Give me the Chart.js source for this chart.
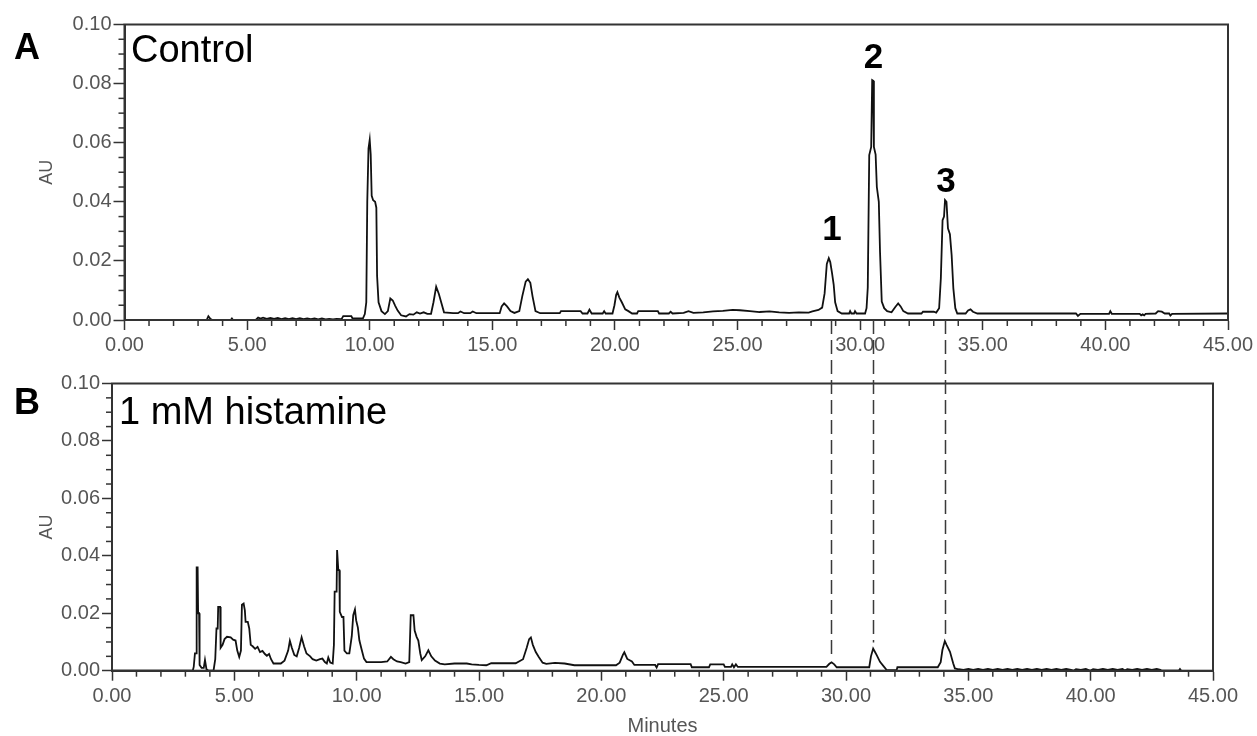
<!DOCTYPE html>
<html>
<head>
<meta charset="utf-8">
<script src="https://cdn.jsdelivr.net/npm/chart.js@4.4.1/dist/chart.umd.min.js"></script>
<style>
html,body{margin:0;padding:0;background:#fff;overflow:hidden;}
#wrap{position:relative;width:1257px;height:736px;overflow:hidden;background:#fff;}
#cA{position:absolute;left:0;top:0;}
#cB{position:absolute;left:0;top:300px;}
</style>
</head>
<body>
<div id="wrap">
<canvas id="cA" width="1257" height="368"></canvas>
<canvas id="cB" width="1257" height="438"></canvas>
</div>
<script>
// ---------- data ----------
const xTickValues = [0, 5, 10, 15, 20, 25, 30, 35, 40, 45];
const xTickLabels = ['0.00','5.00','10.00','15.00','20.00','25.00','30.00','35.00','40.00','45.00'];
const yTickValues = [0, 0.02, 0.04, 0.06, 0.08, 0.10];
const yTickLabels = ['0.00','0.02','0.04','0.06','0.08','0.10'];

const panelLetters = ['A', 'B'];
const panelTitles = ['Control', '1 mM histamine'];
const peakNames = ['1', '2', '3'];
const peakTimesA = [28.85, 30.54, 33.5];      // retention times (min) in Control
const peakTimesB = [29.37, 31.11, 34.06];     // retention times (min) in histamine run
const axisTitleY = 'AU';
const axisTitleX = 'Minutes';

// Panel A (Control) chromatogram: time (min), absorbance (AU)
const timeA = [0,3.35,3.42,3.5,3.58,4.33,4.38,4.43,5.35,5.45,5.55,5.65,5.8,5.95,6.1,6.25,6.4,6.55,6.7,6.85,7.0,7.15,7.3,7.45,7.6,7.75,7.9,8.05,8.2,8.35,8.5,8.65,8.85,8.92,9.25,9.3,9.72,9.8,9.86,9.9,9.95,10.0,10.04,10.08,10.14,10.22,10.27,10.3,10.36,10.48,10.62,10.74,10.84,10.94,11.04,11.14,11.28,11.48,11.62,11.78,11.92,12.05,12.2,12.35,12.5,12.6,12.71,12.82,12.92,13.03,13.4,13.6,13.7,13.85,14.1,14.2,14.35,15.3,15.38,15.48,15.6,15.74,15.9,16.1,16.22,16.36,16.45,16.55,16.64,16.76,16.95,17.75,17.8,18.6,18.68,18.88,18.96,19.05,19.5,19.56,19.62,19.9,19.98,20.05,20.1,20.18,20.28,20.42,20.55,20.7,20.9,20.95,21.75,21.8,22.2,22.27,22.35,22.8,23.0,23.2,23.6,24.0,24.4,24.8,25.1,25.5,25.9,26.3,26.7,27.1,27.5,27.9,28.05,28.3,28.45,28.55,28.64,28.72,28.78,28.85,28.92,28.98,29.08,29.25,29.55,29.59,29.64,29.75,29.79,29.85,30.2,30.26,30.31,30.37,30.45,30.49,30.53,30.56,30.63,30.68,30.76,30.81,30.88,30.98,31.1,31.28,31.44,31.55,31.65,31.76,31.95,32.5,32.56,33.0,33.1,33.22,33.29,33.36,33.42,33.46,33.52,33.58,33.66,33.73,33.8,33.88,33.96,34.3,34.4,34.5,34.6,34.78,38.8,38.88,38.98,40.15,40.2,40.26,41.4,41.46,41.52,41.58,41.64,42.05,42.15,42.3,42.42,42.6,42.65,42.72,45];
const auA = [0,0,0.0013,0.0004,0,0,0.0005,0,0,0.0008,0.0005,0.0008,0.0004,0.0007,0.0004,0.0007,0.0003,0.0006,0.0003,0.0006,0.0003,0.0006,0.0003,0.0005,0.0003,0.0005,0.0002,0.0005,0.0002,0.0004,0.0002,0.0004,0.0003,0.0013,0.0013,0.0005,0.0005,0.002,0.006,0.04,0.058,0.061,0.056,0.042,0.0405,0.04,0.038,0.015,0.006,0.003,0.002,0.003,0.0073,0.0066,0.0048,0.0032,0.0016,0.0012,0.002,0.0018,0.0026,0.0022,0.0026,0.0021,0.0021,0.006,0.0113,0.0088,0.0058,0.0026,0.0023,0.0023,0.0029,0.0023,0.0023,0.0029,0.0023,0.0023,0.0046,0.0056,0.0046,0.003,0.0024,0.003,0.008,0.013,0.0138,0.0126,0.008,0.003,0.0023,0.0023,0.003,0.003,0.0022,0.0022,0.0035,0.0022,0.0022,0.003,0.0022,0.0022,0.005,0.0085,0.0094,0.0076,0.006,0.0036,0.003,0.0022,0.0022,0.003,0.003,0.0022,0.0022,0.0028,0.0022,0.0024,0.003,0.0024,0.0026,0.0029,0.0031,0.0034,0.0033,0.003,0.0027,0.0029,0.0026,0.0024,0.0026,0.0025,0.0029,0.0034,0.0042,0.009,0.019,0.0209,0.0196,0.016,0.012,0.006,0.003,0.0022,0.0022,0.003,0.0022,0.0022,0.003,0.0022,0.0022,0.004,0.011,0.0558,0.0586,0.0812,0.081,0.0586,0.056,0.045,0.04,0.023,0.0062,0.004,0.003,0.0026,0.0045,0.0056,0.0046,0.003,0.0022,0.0022,0.0028,0.0028,0.0025,0.004,0.0141,0.0338,0.035,0.0406,0.04,0.031,0.029,0.022,0.0107,0.004,0.0022,0.0022,0.0032,0.0036,0.0028,0.0022,0.0022,0.0014,0.0021,0.0021,0.003,0.0021,0.0021,0.0016,0.0019,0.0016,0.0021,0.0022,0.003,0.0028,0.0022,0.0022,0.0015,0.0021,0.0022];

// Panel B (1 mM histamine) chromatogram: time (min), absorbance (AU)
const timeB = [0,3.3,3.34,3.39,3.44,3.46,3.5,3.52,3.56,3.58,3.66,3.75,3.8,3.86,3.95,4.15,4.22,4.27,4.32,4.34,4.42,4.44,4.52,4.6,4.7,4.85,4.95,5.05,5.12,5.2,5.27,5.31,5.38,5.43,5.46,5.55,5.61,5.67,5.75,5.85,5.95,6.05,6.15,6.25,6.33,6.42,6.5,6.6,6.9,7.05,7.2,7.27,7.35,7.45,7.55,7.65,7.75,7.85,7.95,8.1,8.2,8.35,8.5,8.6,8.7,8.78,8.84,8.92,9.02,9.07,9.1,9.18,9.2,9.25,9.29,9.31,9.4,9.46,9.5,9.6,9.7,9.8,9.86,9.93,9.98,10.05,10.11,10.2,10.3,10.4,10.7,11.0,11.25,11.4,11.5,11.65,11.8,12.0,12.15,12.21,12.32,12.37,12.45,12.52,12.6,12.66,12.8,12.93,13.05,13.2,13.4,13.6,14.0,14.5,14.7,15.0,15.3,15.5,16.0,16.5,16.8,16.95,17.05,17.12,17.2,17.32,17.45,17.6,17.75,18.1,18.5,18.9,20.6,20.75,20.88,20.94,21.06,21.25,21.35,22.2,22.26,22.32,23.65,23.7,24.4,24.45,25.0,25.05,25.3,25.35,25.42,25.5,25.58,29.2,29.32,29.41,29.52,29.62,30.95,31.02,31.11,31.18,31.25,31.39,31.59,31.66,32.07,32.1,33.75,33.87,33.94,34.04,34.11,34.25,34.38,34.45,34.6,34.8,35.0,35.2,35.4,35.6,35.8,36.0,36.2,36.4,36.6,36.8,37.0,37.2,37.4,37.6,37.8,38.0,38.2,38.4,38.6,38.8,39.0,39.2,39.3,39.4,39.6,39.8,39.97,40.1,40.3,40.5,40.7,40.9,41.1,41.3,41.4,41.5,41.7,41.9,42.1,42.3,42.5,42.7,42.85,42.9,43.6,43.65,43.7];
const auB = [0,0,0.0013,0.006,0.006,0.036,0.036,0.02,0.02,0.002,0.001,0.001,0.0037,0.0005,0,0,0.004,0.0147,0.0147,0.0222,0.0222,0.008,0.009,0.011,0.0118,0.0116,0.0108,0.0105,0.007,0.0048,0.007,0.023,0.0234,0.021,0.017,0.017,0.0147,0.009,0.0085,0.0076,0.0083,0.0065,0.0069,0.0058,0.0052,0.0058,0.004,0.0025,0.0025,0.0035,0.007,0.0104,0.008,0.0055,0.005,0.008,0.0116,0.0085,0.006,0.005,0.004,0.0035,0.004,0.0042,0.003,0.0025,0.0046,0.0028,0.0025,0.009,0.0275,0.0275,0.042,0.035,0.035,0.0205,0.0187,0.0187,0.007,0.006,0.006,0.012,0.0193,0.0213,0.0175,0.015,0.0106,0.0075,0.0042,0.003,0.003,0.003,0.0032,0.0048,0.004,0.0032,0.003,0.0025,0.003,0.0193,0.0193,0.014,0.0118,0.0105,0.006,0.0037,0.005,0.0071,0.005,0.0035,0.0025,0.0022,0.0025,0.0025,0.0022,0.002,0.0019,0.0026,0.0026,0.0026,0.004,0.008,0.011,0.0116,0.009,0.0065,0.0047,0.0028,0.0024,0.0027,0.0025,0.0019,0.0019,0.0028,0.0055,0.0064,0.0041,0.0032,0.002,0.002,0.0011,0.0023,0.0023,0.0012,0.0012,0.0022,0.0022,0.0013,0.0013,0.0022,0.0012,0.0022,0.0013,0.0013,0.0024,0.0029,0.0022,0.0012,0.0012,0.005,0.0077,0.0066,0.0055,0.0031,0.001,0.0002,0.0002,0.0012,0.0012,0.003,0.0072,0.0103,0.009,0.0066,0.0026,0.0008,0.0005,0.0003,0.0006,0.0003,0.0006,0.0003,0.0006,0.0003,0.0006,0.0003,0.0006,0.0003,0.0006,0.0003,0.0006,0.0003,0.0006,0.0003,0.0006,0.0003,0.0006,0.0003,0.0006,0.0003,0,0.0005,0.0003,0.0006,0,0.0005,0.0003,0.0006,0.0003,0.0006,0.0003,0.0006,0.0001,0.0005,0.0003,0.0006,0.0003,0.0006,0.0003,0.0006,0.0003,0,0,0.0006,0];

// ---------- drawing ----------
Chart.defaults.font.family = "'Liberation Sans', Arial, Helvetica, sans-serif";
const TOP_A = 0, TOP_B = 300;
const AXIS = '#333', LABEL = '#555';

function toPoints(t, a) { return t.map((v, i) => ({ x: v, y: a[i] })); }

function line(ctx, x1, y1, x2, y2) { ctx.beginPath(); ctx.moveTo(x1, y1); ctx.lineTo(x2, y2); ctx.stroke(); }

const frameTicks = {
  id: 'frameTicks',
  afterDraw(chart) {
    const { ctx, chartArea: a, scales: { x, y } } = chart;
    ctx.save();
    ctx.strokeStyle = AXIS;
    ctx.lineWidth = 2;
    ctx.strokeRect(a.left, a.top, a.right - a.left, a.bottom - a.top);
    ctx.lineWidth = 1.5;
    for (let m = 1; m < 45; m++) {
      if (m % 5 === 0) continue;
      const px = x.getPixelForValue(m);
      line(ctx, px, a.bottom, px, a.bottom + 6);
    }
    for (let k = 1; k < 20; k++) {
      if (k % 4 === 0) continue;
      const py = y.getPixelForValue(k * 0.005);
      line(ctx, a.left - 6, py, a.left, py);
    }
    ctx.restore();
  }
};

function makeOptions(p) {
  return {
    responsive: false,
    animation: false,
    devicePixelRatio: 1,
    layout: { padding: { left: 0, right: p.right, top: p.top, bottom: 0 } },
    plugins: { legend: { display: false }, tooltip: { enabled: false } },
    elements: { point: { radius: 0 }, line: { tension: 0 } },
    scales: {
      x: {
        type: 'linear', min: 0, max: 45,
        afterBuildTicks: s => { s.ticks = xTickValues.map(v => ({ value: v })); },
        afterFit: s => { s.height = p.xh; },
        grid: { drawOnChartArea: false, drawTicks: true, tickLength: 10, tickWidth: 1.5, tickColor: AXIS },
        border: { display: true, color: AXIS, width: 2 },
        ticks: { autoSkip: false, maxRotation: 0, minRotation: 0, padding: p.xpad, color: LABEL,
                 font: { size: 20 }, callback: (v, i) => xTickLabels[i] },
        title: p.xtitle ? { display: true, text: p.xtitle, color: LABEL, font: { size: 20 }, padding: 0 }
                        : { display: false }
      },
      y: {
        type: 'linear', min: 0, max: 0.1,
        afterBuildTicks: s => { s.ticks = yTickValues.map(v => ({ value: v })); },
        afterFit: s => { s.width = p.yw; },
        grid: { drawOnChartArea: false, drawTicks: true, tickLength: p.ytl, tickWidth: 1.5, tickColor: AXIS },
        border: { display: true, color: AXIS, width: 2 },
        ticks: { padding: 2, color: LABEL, font: { size: 20 }, callback: (v, i) => yTickLabels[i] },
        title: { display: true, text: axisTitleY, color: LABEL, font: { size: 18 }, padding: { top: 36.5, bottom: 0 } }
      }
    }
  };
}

function dataset(t, a) {
  return { data: toPoints(t, a), borderColor: '#111', borderWidth: 1.8, fill: false, pointRadius: 0 };
}

// Panel A
const textA = {
  id: 'textA',
  afterDraw(chart) {
    const { ctx, scales: { x, y } } = chart;
    ctx.save();
    ctx.fillStyle = '#000';
    ctx.textAlign = 'left';
    ctx.textBaseline = 'alphabetic';
    ctx.font = "bold 36px 'Liberation Sans', Arial, sans-serif";
    ctx.fillText(panelLetters[0], 14, 58.5);
    ctx.font = "38px 'Liberation Sans', Arial, sans-serif";
    ctx.fillText(panelTitles[0], 131, 61.5);
    ctx.font = "bold 35px 'Liberation Sans', Arial, sans-serif";
    ctx.textAlign = 'center';
    const labelAU = [0.0272, 0.0854, 0.0432];
    peakNames.forEach((n, i) => {
      ctx.fillText(n, x.getPixelForValue(peakTimesA[i]), y.getPixelForValue(labelAU[i]));
    });
    ctx.restore();
  }
};

const chartA = new Chart(document.getElementById('cA'), {
  type: 'line',
  data: { datasets: [dataset(timeA, auA)] },
  options: makeOptions({ right: 29, top: 24.5, xh: 48, yw: 124.5, xpad: 3, ytl: 11, xtitle: null }),
  plugins: [frameTicks, textA]
});

// Panel B
function peakTop(t0) {
  let best = 0;
  timeB.forEach((t, i) => { if (Math.abs(t - t0) < 0.3 && auB[i] > best) best = auB[i]; });
  return best;
}

const textB = {
  id: 'textB',
  afterDraw(chart) {
    const { ctx, scales: { x, y } } = chart;
    ctx.save();
    ctx.fillStyle = '#000';
    ctx.textAlign = 'left';
    ctx.textBaseline = 'alphabetic';
    ctx.font = "bold 36px 'Liberation Sans', Arial, sans-serif";
    ctx.fillText(panelLetters[1], 14, 413.5 - TOP_B);
    ctx.font = "38px 'Liberation Sans', Arial, sans-serif";
    ctx.fillText(panelTitles[1], 119, 423.5 - TOP_B);
    // dashed guide lines linking the peaks of both runs
    const yStart = chartA.scales.y.getPixelForValue(0) + TOP_A - TOP_B;
    ctx.strokeStyle = '#3a3a3a';
    ctx.lineWidth = 1.5;
    ctx.setLineDash([14, 6]);
    peakTimesB.forEach(t => {
      const px = Math.round(x.getPixelForValue(t)) + 0.5;
      const py = y.getPixelForValue(peakTop(t)) - 6;
      line(ctx, px, yStart, px, py);
    });
    ctx.restore();
  }
};

const chartB = new Chart(document.getElementById('cB'), {
  type: 'line',
  data: { datasets: [dataset(timeB, auB)] },
  options: makeOptions({ right: 44, top: 83.5, xh: 67.3, yw: 112, xpad: 4, ytl: 10, xtitle: axisTitleX }),
  plugins: [frameTicks, textB]
});
</script>
</body>
</html>
